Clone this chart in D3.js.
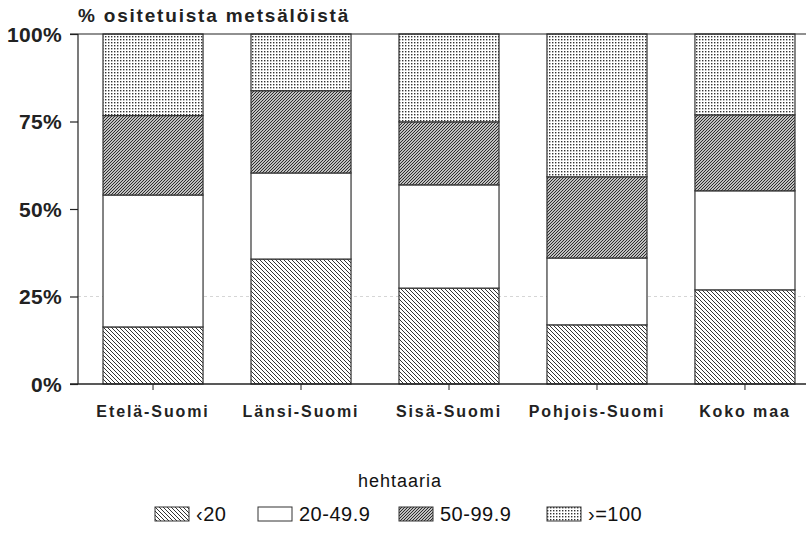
<!DOCTYPE html>
<html><head><meta charset="utf-8">
<script src="https://cdn.jsdelivr.net/npm/d3@7"></script>
<style>body{margin:0;background:#fff}svg{display:block}text{font-family:"Liberation Sans",Arial,sans-serif;fill:#111}</style>
</head><body><svg id="c" width="810" height="534"></svg>
<script>
const categories = ["Etelä-Suomi","Länsi-Suomi","Sisä-Suomi","Pohjois-Suomi","Koko maa"];
const seriesNames = ["‹20","20-49.9","50-99.9","›=100"];
const under20 = [16.3,35.7,27.4,16.9,26.9];
const s20to50 = [37.7,24.6,29.5,19.1,28.3];
const s50to100 = [22.7,23.5,18.0,23.2,21.7];
const over100 = [23.3,16.2,25.1,40.8,23.1];
const yTicks = [0,25,50,75,100];

const svg = d3.select("#c");
const defs = svg.append("defs");
const ink = "#222";
const p1 = defs.append("pattern").attr("id","p0").attr("patternUnits","userSpaceOnUse").attr("width",4).attr("height",4);
p1.append("rect").attr("width",4).attr("height",4).attr("fill","#fff");
p1.append("path").attr("d","M-1,-1L5,5M-1,3L1,5M3,-1L5,1").attr("stroke","#333").attr("stroke-width",1);
const p2 = defs.append("pattern").attr("id","p1").attr("patternUnits","userSpaceOnUse").attr("width",4).attr("height",4);
p2.append("rect").attr("width",4).attr("height",4).attr("fill","#fff");
const p3 = defs.append("pattern").attr("id","p2").attr("patternUnits","userSpaceOnUse").attr("width",3).attr("height",3);
p3.append("rect").attr("width",3).attr("height",3).attr("fill","#fff");
p3.append("path").attr("d","M-1,4L4,-1M-1,1L1,-1M2,4L4,2").attr("stroke","#222").attr("stroke-width",1.1);
const p4 = defs.append("pattern").attr("id","p3").attr("patternUnits","userSpaceOnUse").attr("width",3).attr("height",3);
p4.append("rect").attr("width",3).attr("height",3).attr("fill","#fff");
p4.append("rect").attr("x",0).attr("y",0).attr("width",1.4).attr("height",1.4).attr("fill","#333");

const x = d3.scaleBand().domain(categories).range([78,820]).paddingInner(0.324).paddingOuter(0.169);
const y = d3.scaleLinear().domain([0,100]).range([384,34]);

const rows = categories.map((c,i)=>({cat:c, v:[under20[i],s20to50[i],s50to100[i],over100[i]]}));
const keys = [0,1,2,3];
const stack = d3.stack().keys(keys).value((d,k)=>d.v[k]);
const layers = stack(rows);

svg.append("line").attr("x1",78).attr("x2",805).attr("y1",y(25)).attr("y2",y(25))
  .attr("stroke","#ccc").attr("stroke-width",0.8).attr("stroke-dasharray","3,3");

layers.forEach((L,k)=>{
  svg.append("g").selectAll("rect").data(L).join("rect")
    .attr("x",d=>x(d.data.cat)).attr("width",x.bandwidth())
    .attr("y",d=>y(d[1])).attr("height",d=>y(d[0])-y(d[1]))
    .attr("fill",`url(#p${k})`).attr("stroke","#333").attr("stroke-width",1.2);
});

const yAxis = d3.axisLeft(y).tickValues(yTicks).tickFormat(d=>d+"%").tickSize(8).tickPadding(8);
const gy = svg.append("g").attr("transform","translate(78,0)").call(yAxis);
gy.select(".domain").attr("stroke",ink).attr("stroke-width",1.2).attr("d","M0,34V384");
gy.selectAll(".tick line").attr("stroke",ink).attr("stroke-width",1.2);
gy.selectAll(".tick text").attr("font-size",21).attr("font-weight","bold").attr("letter-spacing","0.3px").style("fill","#222").attr("dy","0.35em");

const xAxis = d3.axisBottom(x).tickSize(6).tickPadding(16);
const gx = svg.append("g").attr("transform","translate(0,384)").call(xAxis);
gx.select(".domain").remove();
gx.selectAll(".tick line").attr("stroke",ink).attr("stroke-width",1);
gx.selectAll(".tick text").attr("font-size",16).attr("font-weight","bold").attr("letter-spacing","1.9px").style("fill","#222");

svg.append("line").attr("x1",70).attr("x2",806).attr("y1",384).attr("y2",384).attr("stroke",ink).attr("stroke-width",1.4);
svg.append("line").attr("x1",70).attr("x2",806).attr("y1",34).attr("y2",34).attr("stroke",ink).attr("stroke-width",1.2);

svg.append("text").attr("x",78).attr("y",22).attr("font-size",19).attr("font-weight","bold").attr("letter-spacing","1.8px")
  .style("fill","#222").text("% ositetuista metsälöistä");

svg.append("text").attr("x",400).attr("y",487).attr("text-anchor","middle").attr("font-size",18).attr("letter-spacing","1px")
  .text("hehtaaria");

const legX = [155,258,399,547];
const lg = svg.append("g").selectAll("g").data(seriesNames).join("g")
  .attr("transform",(d,i)=>`translate(${legX[i]},507)`);
lg.append("rect").attr("width",34).attr("height",14).attr("fill",(d,i)=>`url(#p${i})`).attr("stroke","#333").attr("stroke-width",1);
lg.append("text").attr("x",41).attr("y",14).attr("font-size",20).attr("letter-spacing","0.5px").text(d=>d);
</script></body></html>
